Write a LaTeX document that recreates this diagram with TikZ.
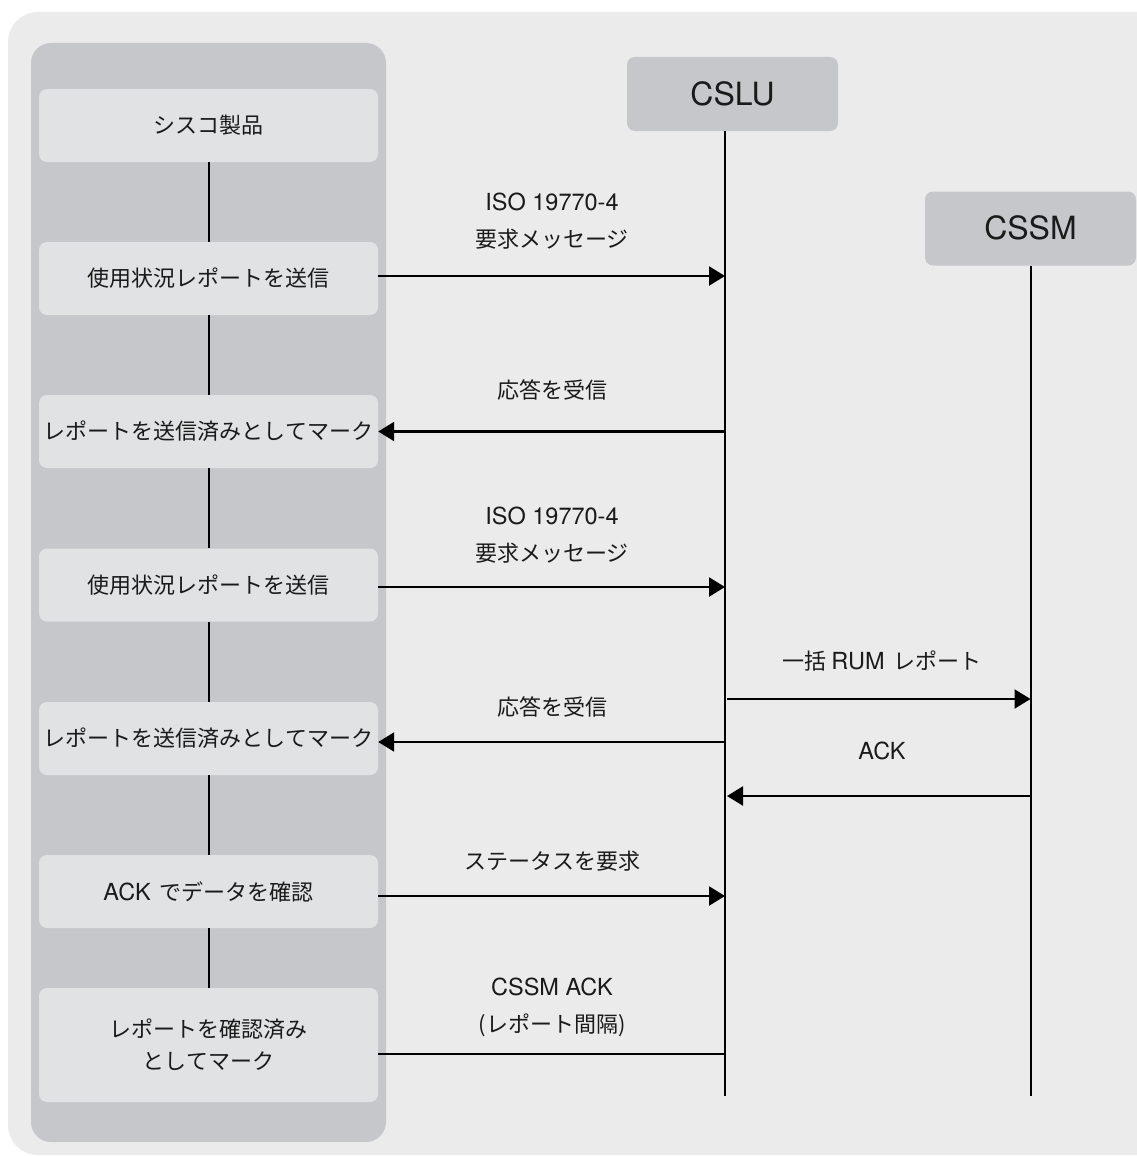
\documentclass[tikz,border=0pt]{standalone}
\usepackage{fontspec}
\setmainfont{Noto Sans CJK JP}
\newfontfamily\lat{TeX Gyre Heros}
\usetikzlibrary{arrows.meta}
\definecolor{bgout}{HTML}{EBEBEB}
\definecolor{colg}{HTML}{C6C7CA}
\definecolor{boxg}{HTML}{E1E2E3}
\definecolor{txt}{HTML}{1A1A1A}
\newcommand{\la}[1]{{\lat\fontsize{23.5}{28}\selectfont #1}}
\begin{document}
\begin{tikzpicture}[x=1pt,y=-1pt,
  lbox/.style={fill=boxg, rounded corners=8pt, minimum width=339pt, minimum height=73pt,
    inner sep=0pt, text=txt, align=center, font=\fontsize{22}{32}\selectfont},
  hbox/.style={fill=colg, rounded corners=8pt, minimum width=211pt, minimum height=74pt,
    inner sep=0pt, text=txt, font=\lat\fontsize{32}{36}\selectfont},
  lbl/.style={text=txt, align=center, inner sep=0pt, font=\fontsize{22}{37}\selectfont},
  life/.style={line width=2pt, draw=black},
  arr/.style={line width=2.3pt, draw=black, -{Triangle[length=16pt,width=19pt]}},
  plain/.style={line width=2.3pt, draw=black},
  vlink/.style={line width=2pt, draw=black}]
\useasboundingbox (0,0) rectangle (1137,1156);
\fill[white] (0,0) rectangle (1137,1156);
\clip (0,0) rectangle (1137,1156);
\fill[bgout, rounded corners=30pt] (8,12) rectangle (1175,1155);
\fill[colg, rounded corners=20pt] (31,43) rectangle (386,1142);

% left boxes
\node[lbox] (b1) at (208.5,125.5) {シスコ製品};
\node[lbox] (b2) at (208.5,278.5) {使用状況レポートを送信};
\node[lbox] (b3) at (208.5,431.5) {レポートを送信済みとしてマーク};
\node[lbox] (b4) at (208.5,585) {使用状況レポートを送信};
\node[lbox] (b5) at (208.5,738.5) {レポートを送信済みとしてマーク};
\node[lbox] (b6) at (208.5,891.5) {\la{ACK}\hspace{4pt} でデータを確認};
\node[lbox, minimum height=114pt] (b7) at (208.5,1045) {レポートを確認済み\\としてマーク};

\foreach \a/\b in {b1/b2,b2/b3,b3/b4,b4/b5,b5/b6,b6/b7}
  \draw[vlink] (\a.south) -- (\b.north);

% headers
\node[hbox] (cslu) at (732.5,94) {CSLU};
\node[hbox] (cssm) at (1030.5,228.5) {\raisebox{2pt}{CSSM}};

\coordinate (luTop) at (725,131);
\coordinate (luBot) at (725,1096);
\draw[life] (luTop) -- (luBot);
\draw[life] (cssm.south) -- (cssm.south |- luBot);

% messages
\draw[arr] ([yshift=2.5pt]b2.east) -- ([yshift=2.5pt]b2.east -| luTop);
\node[lbl] (m1) at (552,221) {\la{ISO 19770-4}\\要求メッセージ};

\draw[arr] (b3.east -| luTop) -- (b3.east);
\node[lbl] (m2) at (552,390) {応答を受信};

\draw[arr] ([yshift=-2pt]b4.east) -- ([yshift=-2pt]b4.east -| luTop);
\node[lbl] (m3) at (552,535) {\la{ISO 19770-4}\\要求メッセージ};

\coordinate (rumL) at (727,699);
\draw[arr] (rumL) -- (rumL -| cssm.south);
\node[lbl] (m4) at (882,661) {一括 \la{RUM}\hspace{4pt} レポート};

\draw[arr] ([yshift=-3.5pt]b5.east -| luTop) -- ([yshift=-3.5pt]b5.east);
\node[lbl] (m5) at (552,707) {応答を受信};

\coordinate (ackR) at (1031,796);
\draw[arr] (ackR) -- (ackR -| 727,0);
\node[lbl] (m6) at (882,751) {\la{ACK}};

\draw[arr] ([yshift=-4.5pt]b6.east) -- ([yshift=-4.5pt]b6.east -| luTop);
\node[lbl] (m7) at (552,861) {ステータスを要求};

\draw[plain] ([yshift=-9pt]b7.east) -- ([yshift=-9pt]b7.east -| luTop);
\node[lbl] (m8) at (552,1007) {\la{CSSM ACK}\\(レポート間隔)};
\end{tikzpicture}
\end{document}
